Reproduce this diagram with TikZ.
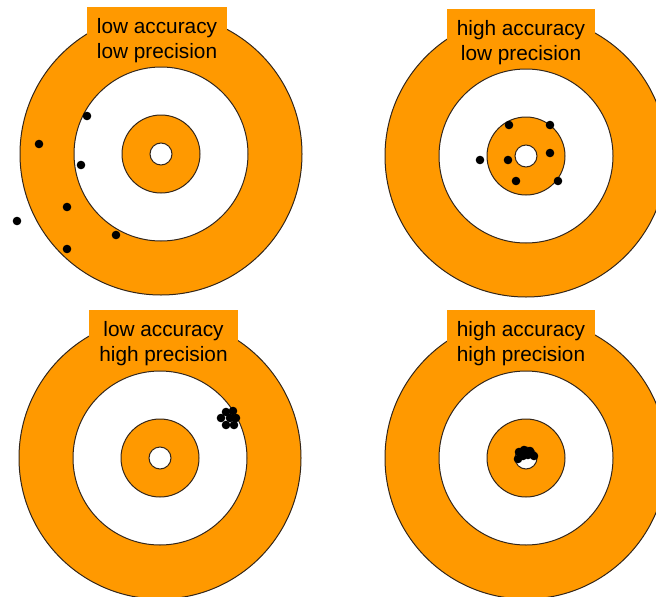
\documentclass[tikz,border=0pt]{standalone}
\usepackage{fontspec}
\setmainfont{Liberation Sans}
\definecolor{scheibe}{HTML}{FF9900}
\definecolor{rand}{HTML}{33261A}

\begin{document}
\begin{tikzpicture}[
		x=1pt, y=-1pt,
		ring/.style={draw=rand, line width=1pt},
		orangering/.style={ring, fill=scheibe},
		weissring/.style={ring, fill=white},
		tag/.style={fill=scheibe, align=center, anchor=north,
			inner xsep=10pt, inner ysep=0pt,
			font=\fontsize{20.8}{25}\selectfont},
		treffer/.style={fill=black},
	]
		\useasboundingbox (0,0) rectangle (656,597);
		\clip (0,0) rectangle (656,597);

		% Zielscheiben (Mittelpunkte in Pixelkoordinaten)
		\foreach \cx/\cy in {161/154, 526/156, 160/458, 526/458} {
			\filldraw[orangering] (\cx,\cy) circle (141pt);
			\filldraw[weissring] (\cx,\cy) circle (87pt);
			\filldraw[orangering] (\cx,\cy) circle (39pt);
			\filldraw[weissring] (\cx,\cy) circle (11pt);
		}

		% Beschriftungen
		\node[tag] (lalp) at (157,7) {\rule{0pt}{26pt}low accuracy\\low precision};
		\node[tag] (halp) at (521,9) {\rule{0pt}{26pt}high accuracy\\low precision};
		\node[tag] (lahp) at (163.5,310) {\rule{0pt}{26pt}low accuracy\\high precision};
		\node[tag] (hahp) at (521,310) {\rule{0pt}{26pt}high accuracy\\high precision};

		% Treffer
		\foreach \px/\py in {87/116, 39/144, 81/165, 67/207, 17/221, 116/235, 67/249}
			\fill[treffer] (\px,\py) circle (4.3pt);
		\foreach \px/\py in {509/125, 550/125, 480/160, 508/160, 550/153, 516/181, 558/181}
			\fill[treffer] (\px,\py) circle (4.3pt);
		\foreach \px/\py in {221/418, 226/412, 233/411, 236/418, 234/425, 226/425, 230/418}
			\fill[treffer] (\px,\py) circle (4.3pt);
		\foreach \px/\py in {519/452, 524/450, 530/451, 534/456, 518/459, 523/456, 528/455}
			\fill[treffer] (\px,\py) circle (4.3pt);
	\end{tikzpicture}
\end{document}
